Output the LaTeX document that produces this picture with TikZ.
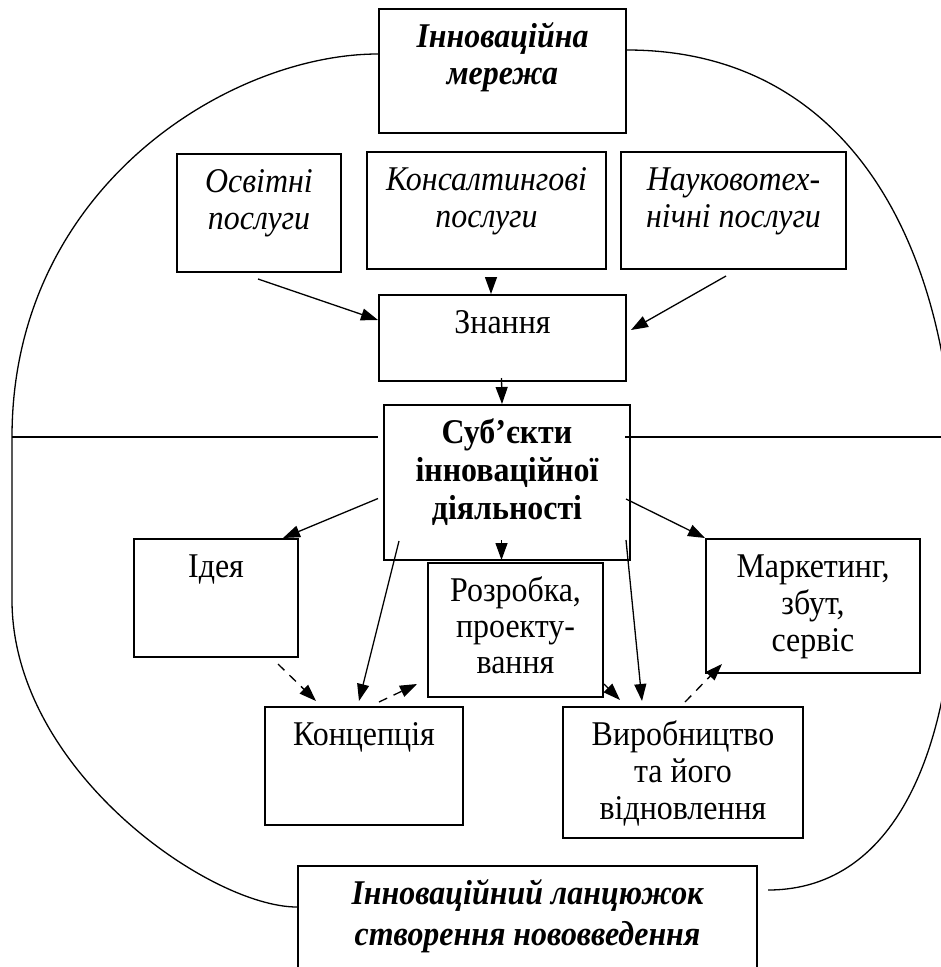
\documentclass[tikz,border=0pt]{standalone}
\usepackage{fontspec}
\setmainfont{Liberation Serif}[FakeStretch=0.92]
\usetikzlibrary{arrows.meta,calc}
\newcommand{\boxtext}[3]{\parbox[c][#2][t]{#1}{\centering\vspace*{12pt}\rule{0pt}{26pt}#3}}

\begin{document}
\begin{tikzpicture}[x=1pt,y=-1pt,
    blk/.style={draw, line width=2pt, inner sep=0pt, font=\fontsize{34.7}{37}\selectfont},
    itblk/.style={blk, font=\fontsize{34.7}{37}\selectfont\itshape},
    bfblk/.style={blk, font=\fontsize{34.7}{38}\selectfont\bfseries},
    bfitblk/.style={blk, font=\fontsize{34.7}{37}\selectfont\bfseries\itshape},
    arr/.style={-{Triangle[length=17pt,width=12pt]}, line width=1.3pt},
    dsh/.style={arr, dash pattern=on 9pt off 7pt},
    edge/.style={line width=1.3pt}]
        \clip (0,0) rectangle (941,967);

        \node[bfitblk] (net) at (502.5,71) {\boxtext{247pt}{124pt}{Інноваційна\\мережа}};
        \node[itblk] (osv) at (259,213) {\boxtext{164pt}{118pt}{Освітні\\послуги}};
        \node[itblk] (kons) at (486.5,210.5) {\boxtext{239pt}{117pt}{Консалтингові\\послуги}};
        \node[itblk] (nauk) at (733.5,210.5) {\boxtext{225pt}{117pt}{Науковотех-\\нічні послуги}};
        \node[blk] (zn) at (502.5,338) {\boxtext{247pt}{86pt}{Знання}};
        \node[bfblk] (sub) at (507,482.5) {\boxtext{246pt}{155pt}{Суб’єкти\\інноваційної\\діяльності}};
        \node[blk] (idea) at (216,598) {\boxtext{164pt}{118pt}{Ідея}};
        \node[blk, font=\fontsize{34.7}{36}\selectfont] (rozr) at (515.5,630) {\boxtext{175pt}{134pt}{Розробка,\\проекту-\\вання}};
        \node[blk] (mark) at (813,606) {\boxtext{214pt}{134pt}{Маркетинг,\\збут,\\сервіс}};
        \node[blk] (konc) at (364,766) {\boxtext{198pt}{118pt}{Концепція}};
        \node[blk] (vyr) at (683,772.5) {\boxtext{240pt}{131pt}{Виробництво\\та його\\відновлення}};
        \node[bfitblk, font=\fontsize{34.7}{41}\selectfont\bfseries\itshape] (chain) at (527.5,933) {\boxtext{459pt}{134pt}{Інноваційний ланцюжок\\створення нововведення}};

        \coordinate (lft) at (12,437);
        \coordinate (rgt) at (941,437);

        % outer contour
        \draw[edge] ($(net.west)+(0,-17)$) .. controls (230,54) and (12,187) .. (lft)
            -- (12,600) .. controls (12,770) and (210,907) .. ($(chain.west)+(0,-26)$);
        \draw[edge] ($(net.east)+(0,-21)$) .. controls (846,50) and (955,240) .. (955,500)
            -- (955,560) .. controls (955,740) and (900,890) .. ($(chain.east)+(10,-43)$);
        \draw[edge] (lft) -- ($(sub.west)+(-5,-45.5)$);
        \draw[edge] ($(sub.east)+(-6,-45.5)$) -- (rgt);

        \draw[arr] ($(osv.south)+(-1,6)$) -- ($(zn.west)+(0,-18)$);
        \draw[arr] ($(kons.south)+(4.5,8)$) -- ($(zn.north)+(-11.5,0)$);
        \draw[arr] ($(nauk.south)+(-7.5,6)$) -- ($(zn.east)+(4,-8)$);
        \draw[arr] ($(zn.south)+(-1,-4)$) -- ($(sub.north)+(-5,0)$);

        \draw[arr] ($(sub.west)+(-5,16)$) -- ($(idea.north east)+(-16,0)$);
        \draw[arr] ($(sub.east)+(-5,16.5)$) -- (mark.north west);
        \draw[arr] ($(sub.south)+(-5.5,-21)$) -- ($(rozr.north)+(-14,-2)$);
        \draw[arr] ($(sub.south west)+(16,-20)$) -- ($(konc.north)+(-5,-5)$);
        \draw[arr] ($(sub.south east)+(-5,-21)$) -- ($(vyr.north west)+(80,-5)$);

        \draw[dsh] ($(idea.south east)+(-21,6)$) -- ($(konc.north west)+(52,-5)$);
        \draw[dsh] ($(konc.north)+(15,-4)$) -- ($(rozr.south west)+(-10,-14)$);
        \draw[arr] ($(rozr.south east)+(0,-14)$) -- ($(vyr.north west)+(58,-6)$);
        \draw[dsh] ($(vyr.north)+(2,-4)$) -- ($(mark.south west)+(17,-10)$);
    \end{tikzpicture}
\end{document}
